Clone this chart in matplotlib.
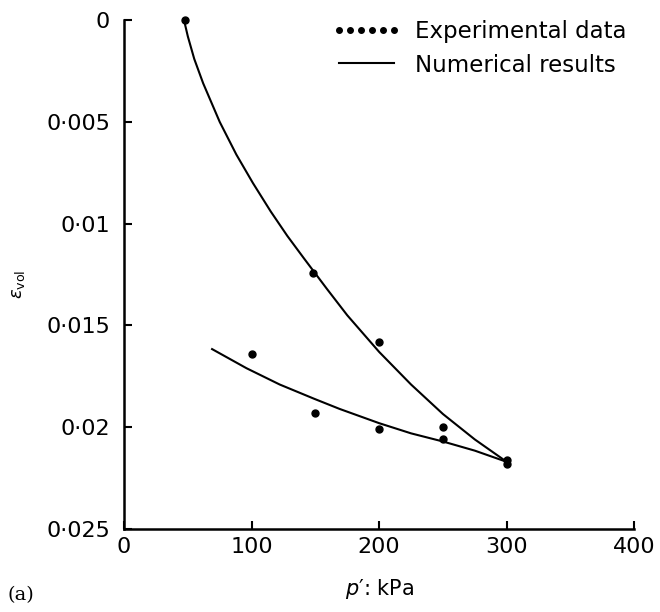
import numpy as np
import matplotlib.pyplot as plt
from matplotlib.ticker import FixedLocator, FuncFormatter

# experimental points (p' in kPa, volumetric strain)
exp_p = [48, 148, 200, 100, 150, 200, 250, 250, 300, 300]
exp_eps = [0.0, 0.0124, 0.0158, 0.0164, 0.0193, 0.0201, 0.0200, 0.0206, 0.0216, 0.0218]

# numerical results, loading branch
load_p = [47, 50, 55, 62, 75, 88, 101, 115, 128, 141, 159, 175, 200, 225, 250, 275, 300]
load_eps = [0.0, 0.0008, 0.0019, 0.0031, 0.0050, 0.0066, 0.0080, 0.0094, 0.0106,
            0.0117, 0.0132, 0.0145, 0.0163, 0.0179, 0.01935, 0.0206, 0.0217]

# numerical results, unloading branch
unload_p = [69, 96, 122, 149, 169, 200, 225, 250, 275, 300]
unload_eps = [0.01616, 0.0171, 0.0179, 0.0186, 0.0191, 0.0198, 0.0203, 0.0207, 0.02115, 0.0217]

x_ticks = [0, 100, 200, 300, 400]
y_ticks = [0, 0.005, 0.01, 0.015, 0.02, 0.025]


def dot_fmt(v, pos):
    if v == 0:
        return "0"
    s = ("%.3f" % v).rstrip("0")
    return s.replace(".", "\u00b7")


if __name__ == "__main__":

    plt.rcParams['font.family'] = ['DejaVu Sans']

    fig = plt.figure(figsize=(6.6, 6.12), dpi=100)
    ax = fig.add_axes([0.188, 0.1356, 0.773, 0.8314])

    ax.plot(exp_p, exp_eps, "o", color="k", ms=5, clip_on=False, label="Experimental data")
    ax.plot(load_p, load_eps, "-", color="k", lw=1.5, label="Numerical results")
    ax.plot(unload_p, unload_eps, "-", color="k", lw=1.5)

    ax.set_xlim(0, 400)
    ax.set_ylim(0.025, 0)

    ax.spines["top"].set_visible(False)
    ax.spines["right"].set_visible(False)
    ax.spines["left"].set_linewidth(1.8)
    ax.spines["bottom"].set_linewidth(1.8)

    ax.xaxis.set_major_locator(FixedLocator(x_ticks))
    ax.yaxis.set_major_locator(FixedLocator(y_ticks))
    ax.yaxis.set_major_formatter(FuncFormatter(dot_fmt))
    ax.tick_params(direction="in", length=6, width=1.5, labelsize=16)
    ax.tick_params(axis="x", pad=6)
    ax.tick_params(axis="y", pad=10)

    ax.set_xlabel("$p$\u2032: kPa", fontsize=15)
    ax.xaxis.set_label_coords(0.5, -0.095)
    ax.set_ylabel(r"$\varepsilon_{\rm vol}$", fontsize=13)
    ax.yaxis.set_label_coords(-0.19, 0.48)

    ax.legend(loc="upper right", frameon=False, numpoints=6, fontsize=16.5,
              handlelength=3.0, handletextpad=0.6, labelspacing=0.45,
              borderaxespad=0.0, borderpad=0.0, markerscale=0.8,
              bbox_to_anchor=(0.985, 1.0))

    fig.text(0.012, 0.02, "(a)", fontsize=14, family="serif")

    fig.savefig("out.png", dpi=100)
